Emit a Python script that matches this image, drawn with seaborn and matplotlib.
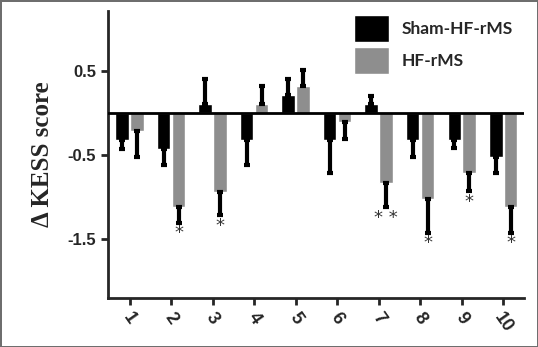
import numpy as np
import pandas as pd
import matplotlib
matplotlib.use('Agg')
import matplotlib.pyplot as plt
import seaborn as sns

# Values
items = ['1', '2', '3', '4', '5', '6', '7', '8', '9', '10']
sham = [-0.32, -0.43, 0.11, -0.32, 0.22, -0.32, 0.11, -0.32, -0.32, -0.52]
sham_err = [0.11, 0.19, 0.30, 0.30, 0.19, 0.39, 0.10, 0.20, 0.10, 0.19]
hf = [-0.21, -1.12, -0.94, 0.11, 0.32, -0.11, -0.83, -1.03, -0.72, -1.12]
hf_err = [0.31, 0.19, 0.28, 0.21, 0.20, 0.20, 0.29, 0.40, 0.21, 0.31]
stars = ['', '*', '*', '', '', '', '* *', '*', '*', '*']
groups = ['Sham-HF-rMS', 'HF-rMS']

data = pd.DataFrame({
    'item': items * 2,
    'score': sham + hf,
    'group': [groups[0]] * len(items) + [groups[1]] * len(items),
})

sns.set_style('ticks')
fig = plt.figure(figsize=(5.38, 3.47), dpi=100)
fig.patch.set_edgecolor('#6e6e6e')
fig.patch.set_linewidth(2)
ax = fig.add_axes([0.2007, 0.141, 0.7733, 0.827])

sns.barplot(data=data, x='item', y='score', hue='group', order=items,
            hue_order=groups, palette=['black', '#8e8e8e'],
            width=0.72, gap=0.1, errorbar=None, ax=ax, zorder=2)

# one-sided error bars (away from zero) plus significance marks
for container, vals, errs in zip(ax.containers, [sham, hf], [sham_err, hf_err]):
    for bar, v, e in zip(container, vals, errs):
        x = bar.get_x() + bar.get_width() / 2
        yerr = [[e], [0]] if v < 0 else [[0], [e]]
        ax.errorbar(x, v, yerr=yerr, fmt='none', ecolor='black',
                    elinewidth=3, capsize=2, capthick=3, zorder=3)

for bar, v, e, s in zip(ax.containers[1], hf, hf_err, stars):
    if s:
        x = bar.get_x() + bar.get_width() / 2
        ax.text(x, v - e - 0.02, s, ha='center', va='top', fontsize=13,
                color='#333333')

ax.axhline(0, color='black', lw=2, zorder=4)

ax.set_xlim(-0.52, 9.5)
ax.set_ylim(-2.21, 1.22)
ax.set_yticks([0.5, -0.5, -1.5])
ax.set_yticklabels(['0.5', '-0.5', '-1.5'], fontsize=12, fontweight='bold',
                   family='Liberation Sans')
ax.set_xticks(range(len(items)))
ax.set_xticklabels(items, fontsize=13, fontweight='bold', rotation=-55,
                   family='Liberation Sans', ha='center', va='top')
ax.tick_params(axis='both', length=5, width=2, direction='out')
ax.set_xlabel('')
ax.set_ylabel('Δ KESS score', fontsize=18, fontweight='bold',
              family='Liberation Serif', labelpad=10)
sns.despine(ax=ax)
ax.spines['left'].set_linewidth(2)
ax.spines['bottom'].set_linewidth(2)

leg = ax.legend(loc='upper right', bbox_to_anchor=(1.01, 1.04), frameon=False,
                handlelength=2.0, handleheight=2.0, handletextpad=0.7,
                labelspacing=0.3,
                prop={'family': 'Lato', 'weight': 'bold', 'size': 12.5})

fig.savefig('out.png', dpi=100)
